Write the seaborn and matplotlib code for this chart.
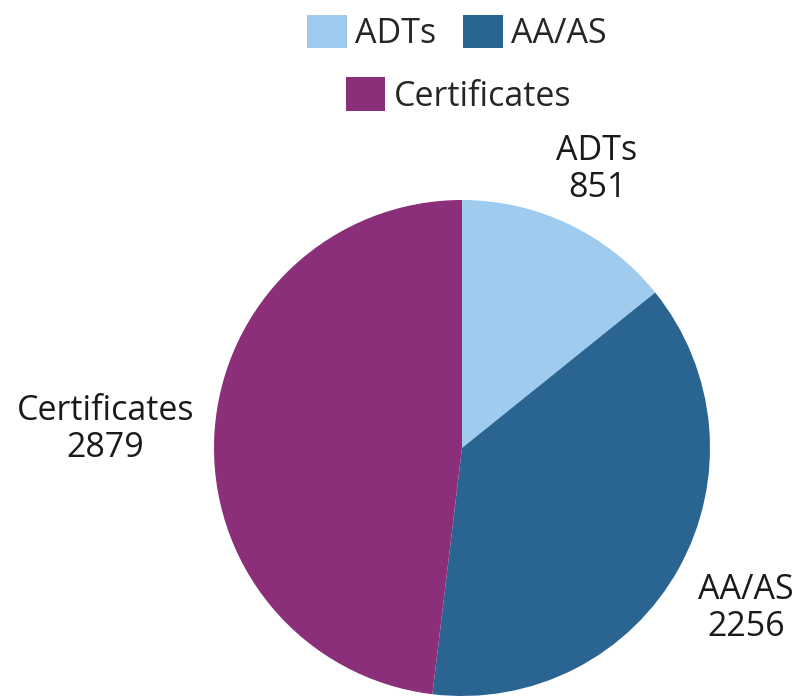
import numpy as np
import matplotlib
matplotlib.use("Agg")
import matplotlib.pyplot as plt
import seaborn as sns

categories = ["ADTs", "AA/AS", "Certificates"]
counts = [851, 2256, 2879]
colors = ["#9ecbee", "#2a6592", "#8b2f7a"]
label_dist = [1.26, 1.31, 1.44]

sns.set_theme(style="white")
plt.rcParams['font.family'] = ['Open Sans', 'DejaVu Sans']

fig = plt.figure(figsize=(7.99, 6.96), dpi=100)
ax = fig.add_axes([0, 0, 1, 1])

cx, cy, r = 462, 248, 248
wedges, _ = ax.pie(counts, colors=colors, startangle=90, counterclock=False,
                   center=(cx, cy), radius=r, frame=True,
                   wedgeprops={'linewidth': 0})
ax.set_xlim(0, 799)
ax.set_ylim(0, 696)
ax.set_aspect('equal')
ax.axis('off')

# labels outside the slices
total = sum(counts)
start = 90.0
for name, val, d in zip(categories, counts, label_dist):
    span = 360.0 * val / total
    mid = np.deg2rad(start - span / 2)
    start -= span
    ax.text(cx + d * r * np.cos(mid), cy + d * r * np.sin(mid) - 3, f"{name}\n{val}",
            ha='center', va='center', fontsize=24.5, color='#1a1a1a', linespacing=1.12)

# legend split in two centred rows
leg1 = fig.legend(wedges[:2], categories[:2], loc='center', bbox_to_anchor=(0.572, 0.953),
                  ncol=2, frameon=False, fontsize=24.5, handlelength=1.15, handleheight=1.15,
                  handletextpad=0.25, columnspacing=0.8, borderpad=0, borderaxespad=0)
leg2 = fig.legend(wedges[2:], categories[2:], loc='center', bbox_to_anchor=(0.574, 0.863),
                  frameon=False, fontsize=24.5, handlelength=1.15, handleheight=1.15,
                  handletextpad=0.25, borderpad=0, borderaxespad=0)

fig.savefig("out.png", dpi=100)
